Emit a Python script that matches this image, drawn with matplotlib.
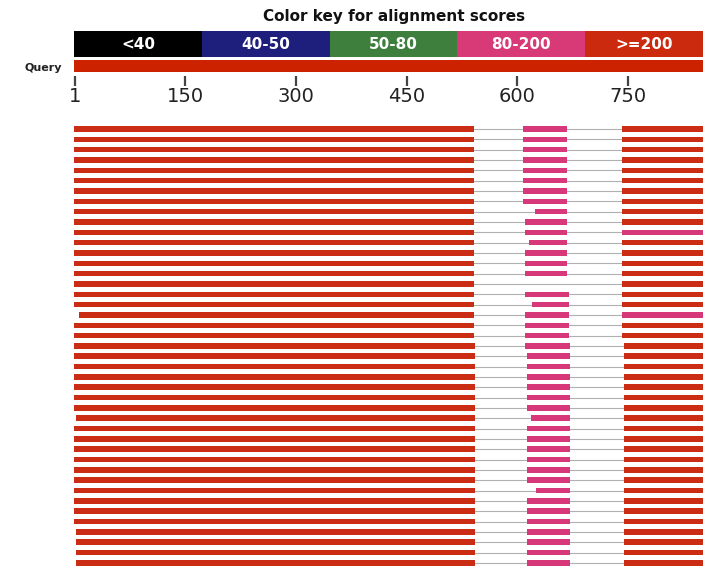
import matplotlib
matplotlib.use('Agg')
import matplotlib.pyplot as plt

# ---------------- data ----------------
query_length = 865
tick_values = [1, 150, 300, 450, 600, 750]
key_labels = ['<40', '40-50', '50-80', '80-200', '>=200']
key_colors = ['#000000', '#1e1f7c', '#3e7f3e', '#d73a77', '#cc2a0e']
hit_colors = {'80-200': '#d6387a', '>=200': '#cb2d14'}

left_start = [1] * 18 + [7] + [1] * 9 + [4] + [1] * 10 + [3] * 4
left_end = [541] * 21 + [543] * 22
pink_start = ([608] * 8 + [624, 610, 610, 616, 610, 610, 610, None, 610, 620,
               610, 610, 610, 611] + [613] * 6 + [619] + [613] * 6 + [626]
              + [613] * 7)
pink_end = [668] * 16 + [670] * 5 + [671] * 22
right_start = [742] * 21 + [745] * 22
right_cat = ['>=200'] * 10 + ['80-200'] + ['>=200'] * 7 + ['80-200'] + ['>=200'] * 24

n_rows = len(left_start)
XLIM = (-100.6, 851.6)

fig = plt.figure(figsize=(7.03, 5.68), dpi=100)
fig.patch.set_facecolor('white')

# ---------------- header ----------------
H = 115.0
axh = fig.add_axes([0, 1 - H / 568, 1, H / 568])
axh.set_xlim(*XLIM)
axh.set_ylim(H, 0)
axh.axis('off')

axh.text(query_length / 2, 17, 'Color key for alignment scores', ha='center',
         va='center', fontsize=11, fontweight='bold', family='DejaVu Sans',
         color='#111111')
seg = query_length / len(key_labels)
for k, (lab, col) in enumerate(zip(key_labels, key_colors)):
    axh.barh(44, seg, left=k * seg, height=26, color=col, edgecolor='none')
    axh.text(k * seg + seg / 2 - (6 if k == 4 else 0), 44.5, lab, ha='center',
             va='center', color='white', fontsize=11, fontweight='bold')
axh.barh(66, query_length, left=0, height=12, color='#cc2200', edgecolor='none')
axh.text(63 / 703 * 0 + -17, 68, 'Query', ha='right', va='center', fontsize=8,
         fontweight='bold', color='#222222')
for t in tick_values:
    axh.plot([t, t], [76, 86], color='#444444', lw=1.6, solid_capstyle='butt')
    axh.text(t, 97, str(t), ha='center', va='center', fontsize=14,
             color='#222222')

# ---------------- hits ----------------
top_px = 123.8
ax = fig.add_axes([0, 0, 1, (568 - top_px) / 568])
ax.set_xlim(*XLIM)
ax.set_ylim(42.5, -0.5)
ax.axis('off')

bh = 0.53
for i in range(n_rows):
    ax.plot([left_end[i], right_start[i]], [i, i], color='#b0b0b0', lw=0.8,
            zorder=1)
    ax.barh(i, left_end[i] - (left_start[i] - 1), left=left_start[i] - 1,
            height=bh, color=hit_colors['>=200'], edgecolor='none', zorder=2)
    if pink_start[i] is not None:
        ax.barh(i, pink_end[i] - pink_start[i], left=pink_start[i], height=bh,
                color=hit_colors['80-200'], edgecolor='none', zorder=2)
    ax.barh(i, query_length - right_start[i], left=right_start[i], height=bh,
            color=hit_colors[right_cat[i]], edgecolor='none', zorder=2)

fig.savefig('out.png', dpi=100, facecolor='white')
